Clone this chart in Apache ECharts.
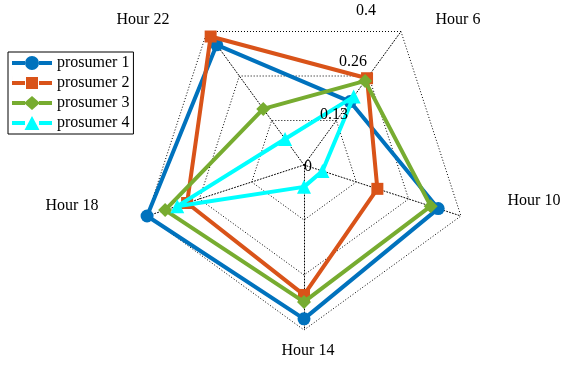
<!DOCTYPE html>
<html>
<head>
<meta charset="utf-8">
<script src="https://cdn.jsdelivr.net/npm/echarts@6/dist/echarts.min.js"></script>
<style>
  html, body { margin: 0; padding: 0; background: #fff; }
  #chart { width: 562px; height: 365px; }
</style>
</head>
<body>
<div id="chart"></div>
<script>
// Hourly shares per prosumer, listed in hour order
const hours = ['Hour 6', 'Hour 10', 'Hour 14', 'Hour 18', 'Hour 22'];
const prosumer1 = [0.19, 0.342, 0.373, 0.40, 0.36];
const prosumer2 = [0.26, 0.187, 0.315, 0.298, 0.385];
const prosumer3 = [0.252, 0.323, 0.332, 0.354, 0.168];
const prosumer4 = [0.205, 0.047, 0.053, 0.323, 0.078];
const seriesNames = ['prosumer 1', 'prosumer 2', 'prosumer 3', 'prosumer 4'];
const levelLabels = ['0', '0.13', '0.26', '0.4'];
const axisMax = 0.4;

// Layout
const CX = 304, CY = 165, R = 165;
const FONT = '16px "Liberation Serif", "Times New Roman", serif';
const colors = ['#0072BD', '#D95319', '#77AC30', '#00FFFF'];
const symbols = ['circle', 'rect', 'diamond', 'triangle'];
const symbolSizes = [13, 12, 14, 14];

// Legend icons: a thick line with the series marker in the middle (40 x 14 box)
const lineBits = 'M0 5 L13 5 L13 9 L0 9 Z M27 5 L40 5 L40 9 L27 9 Z ';
const legendIcons = [
  'path://' + lineBits + 'M13 7 A7 7 0 1 1 27 7 A7 7 0 1 1 13 7 Z',
  'path://' + lineBits + 'M14 1 L26 1 L26 13 L14 13 Z M0 0 L0.01 0 L0.01 14 L0 14 Z',
  'path://' + lineBits + 'M20 0 L28 7 L20 14 L12 7 Z',
  'path://' + lineBits + 'M20 0 L27.5 14 L12.5 14 Z'
];

// ECharts places radar axes counter-clockwise; start at Hour 6 (upper right)
const order = [0, 4, 3, 2, 1];
const reorder = arr => order.map(i => arr[i]);

// Offsets (from the radar centre) for the hour names and the level labels
const nameOffsets = [[154, -145], [230, 36], [4, 186], [-232, 41], [-161, -145]];
const levelOffsets = [[4, 2], [30, -50], [49, -103], [62, -154]];

const allValues = [prosumer1, prosumer2, prosumer3, prosumer4];

const series = allValues.map((vals, k) => ({
  type: 'radar',
  name: seriesNames[k],
  symbol: symbols[k],
  symbolSize: symbolSizes[k],
  z: 2 + k,
  itemStyle: { color: colors[k] },
  lineStyle: { color: colors[k], width: 4 },
  data: [{ name: seriesNames[k], value: reorder(vals) }]
}));

const graphics = [];
hours.forEach((h, i) => {
  graphics.push({
    type: 'text', silent: true, z: 100,
    style: {
      text: h, x: CX + nameOffsets[i][0], y: CY + nameOffsets[i][1],
      textAlign: 'center', textVerticalAlign: 'middle',
      font: FONT, fill: '#000'
    }
  });
});
levelLabels.forEach((t, i) => {
  graphics.push({
    type: 'text', silent: true, z: 100,
    style: {
      text: t, x: CX + levelOffsets[i][0], y: CY + levelOffsets[i][1],
      textAlign: 'center', textVerticalAlign: 'middle',
      font: FONT, fill: '#000'
    }
  });
});

const chart = echarts.init(document.getElementById('chart'), null, { renderer: 'canvas' });
chart.setOption({
  animation: false,
  backgroundColor: '#fff',
  color: colors,
  legend: {
    orient: 'vertical',
    left: 8, top: 52,
    itemWidth: 40, itemHeight: 14, itemGap: 4,
    padding: [3, 4, 3, 4],
    borderColor: '#000', borderWidth: 1,
    backgroundColor: '#fff',
    data: seriesNames.map((n, k) => ({ name: n, icon: legendIcons[k] })),
    textStyle: { fontFamily: '"Liberation Serif", "Times New Roman", serif', fontSize: 16, color: '#000', lineHeight: 15 }
  },
  radar: {
    center: [CX, CY],
    radius: R,
    startAngle: 54,
    shape: 'polygon',
    splitNumber: 3,
    indicator: reorder(hours).map(h => ({ name: h, min: 0, max: axisMax })),
    axisName: { show: false },
    axisLine: { lineStyle: { color: '#000', width: 1, type: [1, 2] } },
    splitLine: { lineStyle: { color: '#000', width: 1, type: [1, 2] } },
    splitArea: { show: false },
    axisTick: { show: false },
    axisLabel: { show: false }
  },
  series: series,
  graphic: graphics
});
</script>
</body>
</html>
